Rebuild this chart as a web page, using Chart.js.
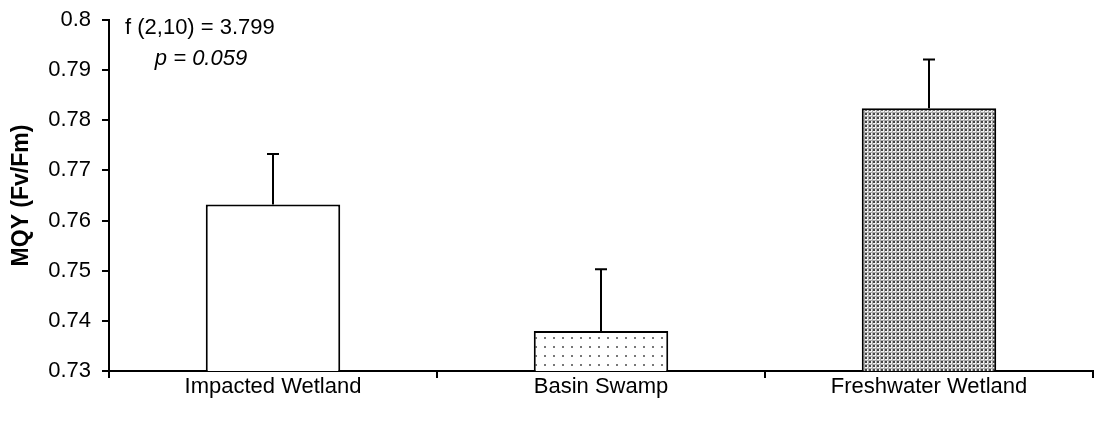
<!DOCTYPE html>
<html>
<head>
<meta charset="utf-8">
<script src="https://cdn.jsdelivr.net/npm/chart.js@4"></script>
<style>
  body { margin: 0; background: #fff; }
  #wrap { width: 1094px; height: 423px; position: relative; }
</style>
</head>
<body>
<div id="wrap"><canvas id="mqyChart"></canvas></div>
<script>
let sites = ["Impacted Wetland", "Basin Swamp", "Freshwater Wetland"];
let meanMqy = [0.7632, 0.7380, 0.7824];
let errMqy = [0.0101, 0.0123, 0.0097];
let statLine1 = "f (2,10) = 3.799";
let statLine2 = "p = 0.059";

let fontFam = "'Liberation Sans', Arial, sans-serif";

// fill patterns like the old excel ones
let makePattern = (size, bg, paint) => {
  let c = document.createElement("canvas");
  c.width = size;
  c.height = size;
  let g = c.getContext("2d");
  g.fillStyle = bg;
  g.fillRect(0, 0, size, size);
  paint(g);
  return g.createPattern(c, "repeat");
};
let ctx = document.getElementById("mqyChart").getContext("2d");
let sparseDots = makePattern(9, "#ffffff", (g) => {
  g.fillStyle = "#777777";
  g.fillRect(4, 4, 2, 2);
});
let denseDots = makePattern(4, "#f2f2f2", (g) => {
  g.fillStyle = "#aaaaaa";
  g.fillRect(0, 0, 4, 1);
  g.fillRect(0, 0, 1, 4);
  g.fillStyle = "#444444";
  g.fillRect(1, 1, 2, 2);
});

let errorBars = {
  id: "errorBars",
  afterDatasetsDraw(chart) {
    let c = chart.ctx;
    let meta = chart.getDatasetMeta(0);
    let y = chart.scales.y;
    c.save();
    c.strokeStyle = "#000";
    c.lineWidth = 2;
    meta.data.forEach((bar, i) => {
      let top = y.getPixelForValue(meanMqy[i] + errMqy[i]);
      c.beginPath();
      c.moveTo(bar.x, bar.y);
      c.lineTo(bar.x, top);
      c.moveTo(bar.x - 6, top);
      c.lineTo(bar.x + 6, top);
      c.stroke();
    });
    c.restore();
  },
};

let statsText = {
  id: "statsText",
  afterDraw(chart) {
    let c = chart.ctx;
    c.save();
    c.fillStyle = "#000";
    c.textBaseline = "middle";
    c.textAlign = "left";
    c.font = "22px " + fontFam;
    c.fillText(statLine1, 125, 28);
    c.textAlign = "center";
    c.font = "italic 22px " + fontFam;
    c.fillText(statLine2, 201, 59);
    c.restore();
  },
};

const mqyChart = new Chart(ctx, {
  type: "bar",
  data: {
    labels: sites,
    datasets: [
      {
        data: meanMqy,
        backgroundColor: ["#ffffff", sparseDots, denseDots],
        borderColor: "#000",
        borderWidth: 2,
        categoryPercentage: 1,
        barPercentage: 0.41,
      },
    ],
  },
  options: {
    responsive: true,
    maintainAspectRatio: false,
    animation: false,
    layout: { padding: { top: 20, right: 1, left: 0, bottom: 0 } },
    plugins: { legend: { display: false }, tooltip: { enabled: false } },
    scales: {
      x: {
        afterFit: (s) => { s.height = 52; },
        grid: {
          drawOnChartArea: false,
          drawTicks: true,
          tickLength: 7,
          color: (c) => (c.index === 3 ? "rgba(0,0,0,0)" : "#000"),
          lineWidth: 2,
          offset: true,
        },
        border: { color: "#000", width: 2 },
        ticks: { color: "#000", font: { size: 22, family: fontFam }, padding: -4 },
      },
      y: {
        min: 0.73,
        max: 0.8,
        afterFit: (s) => {
          s.width = 109;
          s.paddingTop = 0;
          s.paddingBottom = 0;
        },
        grid: { drawOnChartArea: false, drawTicks: true, tickLength: 7, color: "#000", lineWidth: 2 },
        border: { color: "#000", width: 2 },
        ticks: {
          stepSize: 0.01,
          color: "#000",
          font: { size: 22, family: fontFam },
          padding: 11,
          callback: (v) => String(Number(v.toFixed(2))),
        },
        title: {
          display: true,
          text: "MQY (Fv/Fm)",
          color: "#000",
          font: { size: 23, weight: "bold", family: fontFam },
          padding: { top: 8, bottom: 0 },
        },
      },
    },
  },
  plugins: [errorBars, statsText],
});
</script>
</body>
</html>
